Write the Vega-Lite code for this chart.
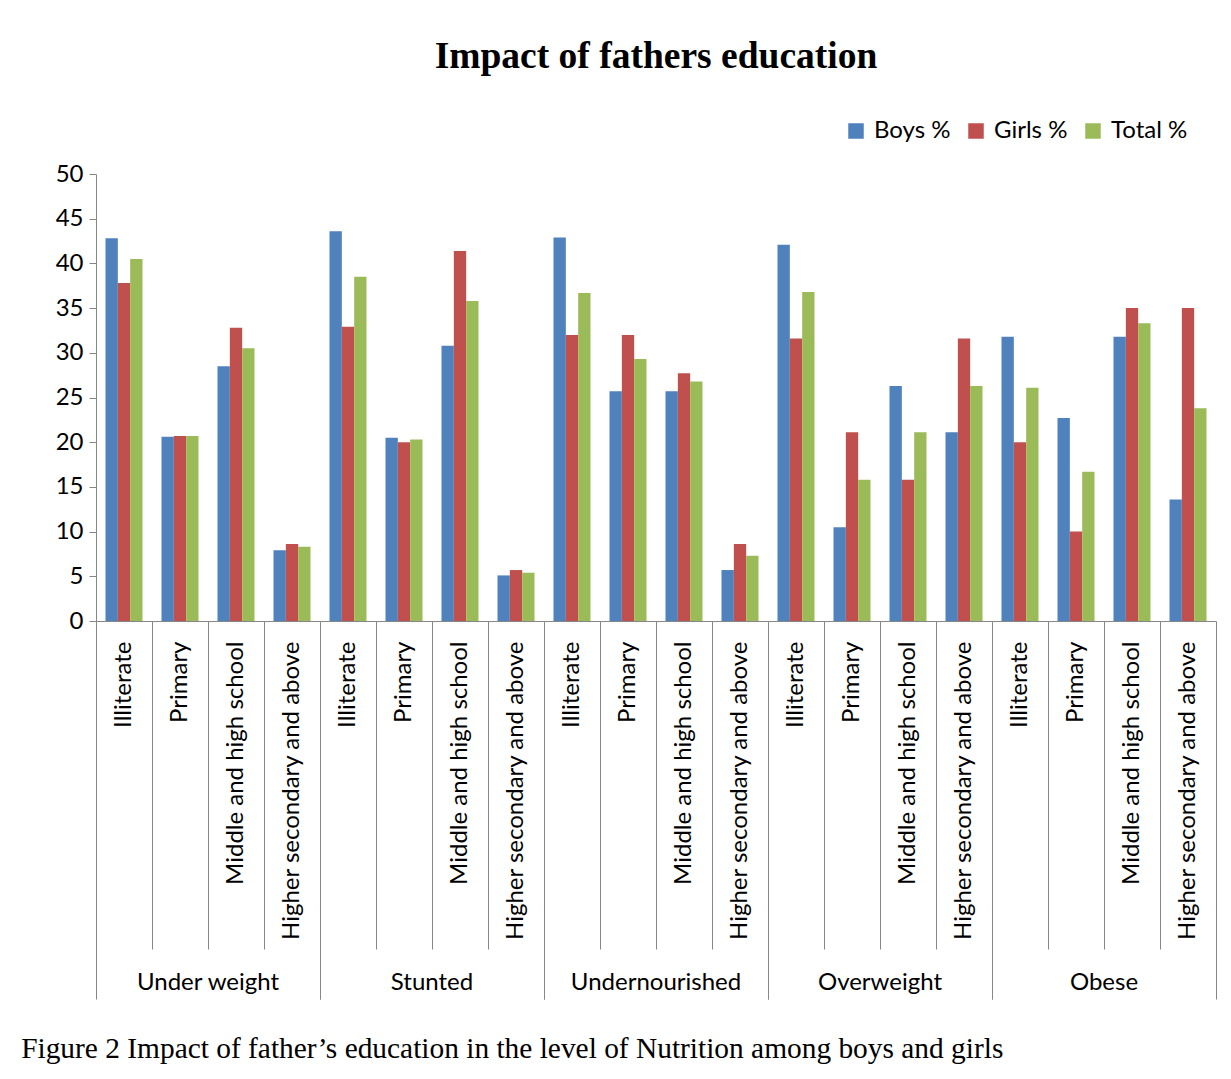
{
  "$schema": "https://vega.github.io/schema/vega-lite/v6.json",
  "background": "white",
  "padding": {"left": 21, "top": 37, "right": 16, "bottom": 10},
  "title": {"text": "Figure 2 Impact of father’s education in the level of Nutrition among boys and girls", "orient": "bottom", "anchor": "start", "font": "Liberation Serif", "fontSize": 29.4, "fontWeight": "normal", "color": "black", "offset": 35, "dx": -34},
  "data": {"values": [
    {"group": "Under weight", "edu": "Illiterate", "series": "Boys %", "value": 42.8},
    {"group": "Under weight", "edu": "Illiterate", "series": "Girls %", "value": 37.8},
    {"group": "Under weight", "edu": "Illiterate", "series": "Total %", "value": 40.5},
    {"group": "Under weight", "edu": "Primary", "series": "Boys %", "value": 20.6},
    {"group": "Under weight", "edu": "Primary", "series": "Girls %", "value": 20.7},
    {"group": "Under weight", "edu": "Primary", "series": "Total %", "value": 20.7},
    {"group": "Under weight", "edu": "Middle and high school", "series": "Boys %", "value": 28.5},
    {"group": "Under weight", "edu": "Middle and high school", "series": "Girls %", "value": 32.8},
    {"group": "Under weight", "edu": "Middle and high school", "series": "Total %", "value": 30.5},
    {"group": "Under weight", "edu": "Higher secondary and above", "series": "Boys %", "value": 7.9},
    {"group": "Under weight", "edu": "Higher secondary and above", "series": "Girls %", "value": 8.6},
    {"group": "Under weight", "edu": "Higher secondary and above", "series": "Total %", "value": 8.3},
    {"group": "Stunted", "edu": "Illiterate", "series": "Boys %", "value": 43.6},
    {"group": "Stunted", "edu": "Illiterate", "series": "Girls %", "value": 32.9},
    {"group": "Stunted", "edu": "Illiterate", "series": "Total %", "value": 38.5},
    {"group": "Stunted", "edu": "Primary", "series": "Boys %", "value": 20.5},
    {"group": "Stunted", "edu": "Primary", "series": "Girls %", "value": 20.0},
    {"group": "Stunted", "edu": "Primary", "series": "Total %", "value": 20.3},
    {"group": "Stunted", "edu": "Middle and high school", "series": "Boys %", "value": 30.8},
    {"group": "Stunted", "edu": "Middle and high school", "series": "Girls %", "value": 41.4},
    {"group": "Stunted", "edu": "Middle and high school", "series": "Total %", "value": 35.8},
    {"group": "Stunted", "edu": "Higher secondary and above", "series": "Boys %", "value": 5.1},
    {"group": "Stunted", "edu": "Higher secondary and above", "series": "Girls %", "value": 5.7},
    {"group": "Stunted", "edu": "Higher secondary and above", "series": "Total %", "value": 5.4},
    {"group": "Undernourished", "edu": "Illiterate", "series": "Boys %", "value": 42.9},
    {"group": "Undernourished", "edu": "Illiterate", "series": "Girls %", "value": 32.0},
    {"group": "Undernourished", "edu": "Illiterate", "series": "Total %", "value": 36.7},
    {"group": "Undernourished", "edu": "Primary", "series": "Boys %", "value": 25.7},
    {"group": "Undernourished", "edu": "Primary", "series": "Girls %", "value": 32.0},
    {"group": "Undernourished", "edu": "Primary", "series": "Total %", "value": 29.3},
    {"group": "Undernourished", "edu": "Middle and high school", "series": "Boys %", "value": 25.7},
    {"group": "Undernourished", "edu": "Middle and high school", "series": "Girls %", "value": 27.7},
    {"group": "Undernourished", "edu": "Middle and high school", "series": "Total %", "value": 26.8},
    {"group": "Undernourished", "edu": "Higher secondary and above", "series": "Boys %", "value": 5.7},
    {"group": "Undernourished", "edu": "Higher secondary and above", "series": "Girls %", "value": 8.6},
    {"group": "Undernourished", "edu": "Higher secondary and above", "series": "Total %", "value": 7.3},
    {"group": "Overweight", "edu": "Illiterate", "series": "Boys %", "value": 42.1},
    {"group": "Overweight", "edu": "Illiterate", "series": "Girls %", "value": 31.6},
    {"group": "Overweight", "edu": "Illiterate", "series": "Total %", "value": 36.8},
    {"group": "Overweight", "edu": "Primary", "series": "Boys %", "value": 10.5},
    {"group": "Overweight", "edu": "Primary", "series": "Girls %", "value": 21.1},
    {"group": "Overweight", "edu": "Primary", "series": "Total %", "value": 15.8},
    {"group": "Overweight", "edu": "Middle and high school", "series": "Boys %", "value": 26.3},
    {"group": "Overweight", "edu": "Middle and high school", "series": "Girls %", "value": 15.8},
    {"group": "Overweight", "edu": "Middle and high school", "series": "Total %", "value": 21.1},
    {"group": "Overweight", "edu": "Higher secondary and above", "series": "Boys %", "value": 21.1},
    {"group": "Overweight", "edu": "Higher secondary and above", "series": "Girls %", "value": 31.6},
    {"group": "Overweight", "edu": "Higher secondary and above", "series": "Total %", "value": 26.3},
    {"group": "Obese", "edu": "Illiterate", "series": "Boys %", "value": 31.8},
    {"group": "Obese", "edu": "Illiterate", "series": "Girls %", "value": 20.0},
    {"group": "Obese", "edu": "Illiterate", "series": "Total %", "value": 26.1},
    {"group": "Obese", "edu": "Primary", "series": "Boys %", "value": 22.7},
    {"group": "Obese", "edu": "Primary", "series": "Girls %", "value": 10.0},
    {"group": "Obese", "edu": "Primary", "series": "Total %", "value": 16.7},
    {"group": "Obese", "edu": "Middle and high school", "series": "Boys %", "value": 31.8},
    {"group": "Obese", "edu": "Middle and high school", "series": "Girls %", "value": 35.0},
    {"group": "Obese", "edu": "Middle and high school", "series": "Total %", "value": 33.3},
    {"group": "Obese", "edu": "Higher secondary and above", "series": "Boys %", "value": 13.6},
    {"group": "Obese", "edu": "Higher secondary and above", "series": "Girls %", "value": 35.0},
    {"group": "Obese", "edu": "Higher secondary and above", "series": "Total %", "value": 23.8}
  ]},
  "facet": {
    "column": {
      "field": "group", "type": "nominal",
      "sort": ["Under weight", "Stunted", "Undernourished", "Overweight", "Obese"],
      "title": "Impact of fathers education\u00a0\u00a0\u00a0\u00a0",
      "header": {
        "labelOrient": "bottom", "labelFont": "Lato", "labelFontSize": 24, "labelColor": "black", "labelPadding": -29,
        "titleOrient": "top", "titleFont": "Liberation Serif", "titleFontWeight": "bold", "titleFontSize": 37.5, "titleColor": "black", "titlePadding": 89
      }
    }
  },
  "spacing": 0,
  "spec": {
    "width": 224,
    "height": 447,
    "resolve": {"axis": {"x": "independent"}},
    "layer": [
      {
        "mark": {"type": "bar"},
        "encoding": {
          "x": {
            "field": "edu", "type": "nominal",
            "sort": ["Illiterate", "Primary", "Middle and high school", "Higher secondary and above"],
            "scale": {"paddingInner": 0, "paddingOuter": 0},
            "axis": {
              "orient": "bottom",
              "title": null, "labelAngle": -90, "labelAlign": "right", "labelBaseline": "middle",
              "labelFont": "Lato", "labelFontSize": 24, "labelColor": "black",
              "labelPadding": {"condition": {"test": "datum.value === 'Illiterate'", "value": -358}, "value": -308},
              "labelOverlap": false, "labelBound": false, "labelLimit": 0,
              "bandPosition": 0,
              "tickSize": {"condition": {"test": "datum.value === 'Illiterate'", "value": 378}, "value": 328},
              "tickColor": "#868686", "domainColor": "#868686", "tickWidth": 1, "domainWidth": 1
            }
          },
          "xOffset": {
            "field": "series", "type": "nominal",
            "sort": ["Boys %", "Girls %", "Total %"],
            "scale": {"paddingInner": 0, "paddingOuter": 0.77}
          },
          "y": {
            "field": "value", "type": "quantitative",
            "scale": {"domain": [0, 50], "nice": false},
            "axis": {
              "title": null, "values": [0, 5, 10, 15, 20, 25, 30, 35, 40, 45, 50], "grid": false,
              "labelFont": "Lato", "labelFontSize": 24, "labelColor": "black", "labelPadding": 6,
              "tickSize": 7, "tickColor": "#868686", "domainColor": "#868686"
            }
          },
          "color": {
            "field": "series", "type": "nominal",
            "scale": {"domain": ["Boys %", "Girls %", "Total %"], "range": ["#4F81BD", "#C0504D", "#9BBB59"]},
            "legend": {
              "title": null, "orient": "none", "direction": "horizontal", "legendX": 748, "legendY": -55,
              "symbolType": "square", "symbolSize": 240, "symbolStrokeWidth": 0,
              "labelFont": "Lato", "labelFontSize": 24, "labelColor": "black", "columnPadding": 13, "labelOffset": 6
            }
          }
        }
      },
      {
        "mark": {"type": "bar", "opacity": 0},
        "encoding": {
          "x": {
            "field": "edu", "type": "nominal",
            "sort": ["Illiterate", "Primary", "Middle and high school", "Higher secondary and above"],
            "axis": {
              "orient": "bottom",
              "title": null, "labels": false, "domain": false, "bandPosition": 1,
              "tickSize": {"condition": {"test": "datum.value === 'Higher secondary and above'", "value": 378}, "value": 0},
              "tickColor": "#868686", "tickWidth": 1
            }
          },
          "y": {"datum": 0}
        }
      }
    ]
  },
  "config": {"view": {"stroke": null}}
}
